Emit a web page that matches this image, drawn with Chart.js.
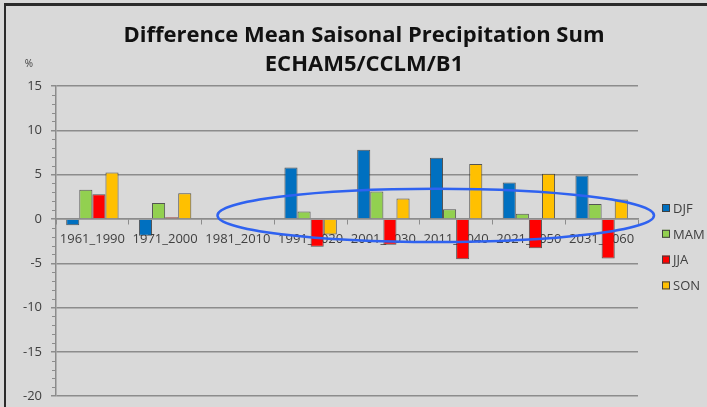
<!DOCTYPE html>
<html>
<head>
<meta charset="UTF-8">
<title>Difference Mean Saisonal Precipitation Sum</title>
<script src="https://cdn.jsdelivr.net/npm/chart.js@4.4.1/dist/chart.umd.min.js"></script>
<style>
    body { margin: 0; background: #d9d9d9; }
    #wrap { position: relative; width: 707px; height: 407px; overflow: hidden; }
    #grafica { position: absolute; left: 0; top: 0; }
    #marco { position: absolute; left: 4px; top: 3px; right: -10px; bottom: -10px;
             border-left: 2px solid #2b2b2b; border-top: 3px solid #2b2b2b; }
</style>
</head>
<body>
<div id="wrap">
    <canvas id="grafica" width="707" height="413"></canvas>
    <div id="marco"></div>
</div>

<script>
    // datos (%)
    const periodos = ['1961_1990', '1971_2000', '1981_2010', '1991_2020',
                      '2001_2030', '2011_2040', '2021_2050', '2031_2060'];
    const estaciones = ['DJF', 'MAM', 'JJA', 'SON'];
    const djf = [-0.7, -1.9, 0, 5.8, 7.8, 6.9, 4.1, 4.9];
    const mam = [3.3, 1.8, 0, 0.85, 3.1, 1.1, 0.6, 1.7];
    const jja = [2.8, 0.2, 0, -3.15, -2.9, -4.55, -3.3, -4.45];
    const son = [5.25, 2.9, 0, -1.75, 2.3, 6.2, 5.1, 2.2];
    const titulo = ['Difference Mean Saisonal Precipitation Sum', 'ECHAM5/CCLM/B1'];
    const yTicks = [15, 10, 5, 0, -5, -10, -15, -20];

    const colores = ['#0070c0', '#92d050', '#ff0000', '#ffc000'];
    const series = [djf, mam, jja, son];

    // titulo, leyenda, marcas menores y la elipse azul
    const extras = {
        id: 'extras',
        afterDraw(chart) {
            const ctx = chart.ctx;
            const area = chart.chartArea;
            const y = chart.scales.y;
            const x = chart.scales.x;
            ctx.save();

            // marcas menores del eje y
            ctx.strokeStyle = '#8c8c8c';
            ctx.lineWidth = 1;
            for (let v = yTicks[yTicks.length - 1]; v <= yTicks[0]; v++) {
                if (v % 5 === 0) continue;
                const py = Math.round(y.getPixelForValue(v)) + 0.5;
                ctx.beginPath();
                ctx.moveTo(area.left - 4, py);
                ctx.lineTo(area.left, py);
                ctx.stroke();
            }

            // titulo
            ctx.fillStyle = '#111';
            ctx.font = 'bold 22px "Open Sans"';
            ctx.textAlign = 'center';
            ctx.textBaseline = 'alphabetic';
            ctx.fillText(titulo[0], 364, 41.5);
            ctx.fillText(titulo[1], 364, 71);

            // unidad
            ctx.font = '10px "Open Sans"';
            ctx.fillStyle = '#404040';
            ctx.textBaseline = 'middle';
            ctx.fillText('%', 29, 64);

            // leyenda
            ctx.font = '13px "Open Sans"';
            ctx.textAlign = 'left';
            chart.data.datasets.forEach((ds, i) => {
                const ly = area.top + 122 + i * 25.8;
                ctx.fillStyle = ds.backgroundColor;
                ctx.fillRect(area.right + 24, ly - 4, 8, 8);
                ctx.strokeStyle = '#404040';
                ctx.strokeRect(area.right + 24.5, ly - 3.5, 7, 7);
                ctx.fillStyle = '#404040';
                ctx.fillText(ds.label, area.right + 35, ly + 1);
            });

            // elipse de resalte
            const cx = x.getPixelForValue(4.72);
            const cy = y.getPixelForValue(0.4);
            const rx = (x.getPixelForValue(3) - x.getPixelForValue(0));
            const ry = y.getPixelForValue(0) - y.getPixelForValue(3);
            ctx.strokeStyle = '#2f62f0';
            ctx.lineWidth = 2.5;
            ctx.beginPath();
            ctx.ellipse(cx, cy, rx, ry, 0, 0, Math.PI * 2);
            ctx.stroke();

            ctx.restore();
        }
    };

    const ctx = document.getElementById('grafica').getContext('2d');

    new Chart(ctx, {
        type: 'bar',
        data: {
            labels: periodos,
            datasets: series.map((s, i) => ({
                label: estaciones[i],
                data: s,
                backgroundColor: colores[i],
                borderColor: 'rgba(50, 50, 50, 0.8)',
                borderWidth: 1,
                categoryPercentage: 0.72,
                barPercentage: 1.0
            }))
        },
        options: {
            responsive: false,
            animation: false,
            layout: {
                padding: { left: 6, right: 69, top: 86, bottom: 5 }
            },
            scales: {
                y: {
                    min: -20,
                    max: 15,
                    afterFit: (scale) => { scale.width = 50; },
                    ticks: {
                        stepSize: 5,
                        padding: 9,
                        color: '#404040',
                        font: { family: 'Open Sans', size: 13 }
                    },
                    grid: {
                        color: '#8c8c8c',
                        lineWidth: 1.5,
                        tickLength: 5
                    },
                    border: { color: '#8c8c8c', width: 1.5 }
                },
                x: {
                    position: { y: 0 },
                    ticks: {
                        padding: 8,
                        color: '#404040',
                        maxRotation: 0,
                        autoSkip: false,
                        font: { family: 'Open Sans', size: 13 }
                    },
                    grid: {
                        drawOnChartArea: false,
                        offset: true,
                        color: '#8c8c8c',
                        tickLength: 5
                    },
                    border: { color: '#8c8c8c', width: 1.5 }
                }
            },
            plugins: {
                legend: { display: false },
                title: { display: false },
                tooltip: { enabled: false }
            }
        },
        plugins: [extras]
    });
</script>
</body>
</html>
